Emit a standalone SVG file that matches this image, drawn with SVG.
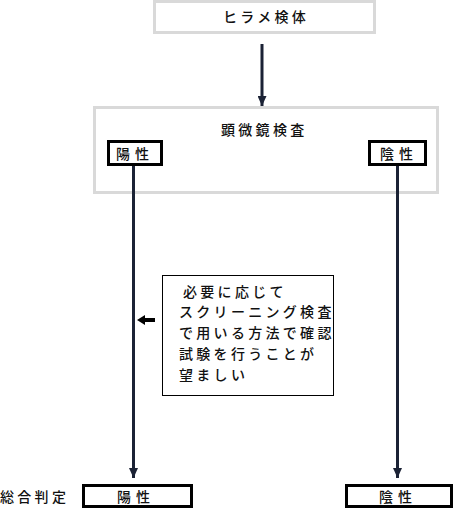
<svg xmlns="http://www.w3.org/2000/svg" width="455" height="509" viewBox="0 0 455 509">
<defs>
<style>
.t{font-family:"Noto Sans CJK JP","Noto Sans CJK SC",sans-serif;font-size:14px;font-weight:500;fill:#111;letter-spacing:3.3px}
.tb{letter-spacing:5px}
.g{fill:#fff;stroke:#d9d9d9;stroke-width:3}
.k{fill:#fff;stroke:#000;stroke-width:3}
.ln{stroke:#1b2235;stroke-width:3;fill:none}
</style>
<marker id="ah" markerUnits="userSpaceOnUse" markerWidth="11" markerHeight="9" refX="10" refY="4.5" orient="auto" viewBox="0 0 11 9">
<path d="M0,0 L10,4.5 L0,9 Z" fill="#1b2235"/>
</marker>
</defs>
<rect width="455" height="509" fill="#fff"/>
<g id="specimen">
<rect class="g" x="154.5" y="1.5" width="220" height="31"/>
<text class="t" x="223" y="22">ヒラメ検体</text>
</g>
<g id="microscopy">
<rect class="g" x="94.5" y="107.5" width="343" height="85"/>
<text class="t" x="221" y="135">顕微鏡検査</text>
</g>
<g id="micro-pos">
<rect class="k" x="108.5" y="141.5" width="53" height="23"/>
<text class="t tb" x="116" y="159">陽性</text>
</g>
<g id="micro-neg">
<rect class="k" x="369.5" y="141.5" width="56" height="23"/>
<text class="t tb" x="380" y="159">陰性</text>
</g>
<g id="note">
<rect x="162.5" y="275.5" width="171" height="120" fill="#fff" stroke="#000" stroke-width="1"/>
<text class="t" x="183" y="297">必要に応じて</text>
<text class="t" x="179" y="317">スクリーニング検査</text>
<text class="t" x="179" y="338">で用いる方法で確認</text>
<text class="t" x="179" y="359">試験を行うことが</text>
<text class="t" x="179" y="380">望ましい</text>
</g>
<g id="label-total">
<text class="t" x="0" y="502">総合判定</text>
</g>
<g id="final-pos">
<rect class="k" x="83.5" y="485.5" width="108" height="21"/>
<text class="t tb" x="117" y="502">陽性</text>
</g>
<g id="final-neg">
<rect class="k" x="346.5" y="485.5" width="105" height="21"/>
<text class="t tb" x="379" y="502">陰性</text>
</g>
<g id="connectors">
<line class="ln" x1="262" y1="44" x2="262" y2="106" marker-end="url(#ah)"/>
<line class="ln" x1="133.5" y1="166" x2="133.5" y2="478" marker-end="url(#ah)"/>
<line class="ln" x1="397.5" y1="166" x2="397.5" y2="478" marker-end="url(#ah)"/>
<polygon points="137,320 145,315 145,318 155,318 155,322 145,322 145,325" fill="#000"/>
</g>
</svg>
